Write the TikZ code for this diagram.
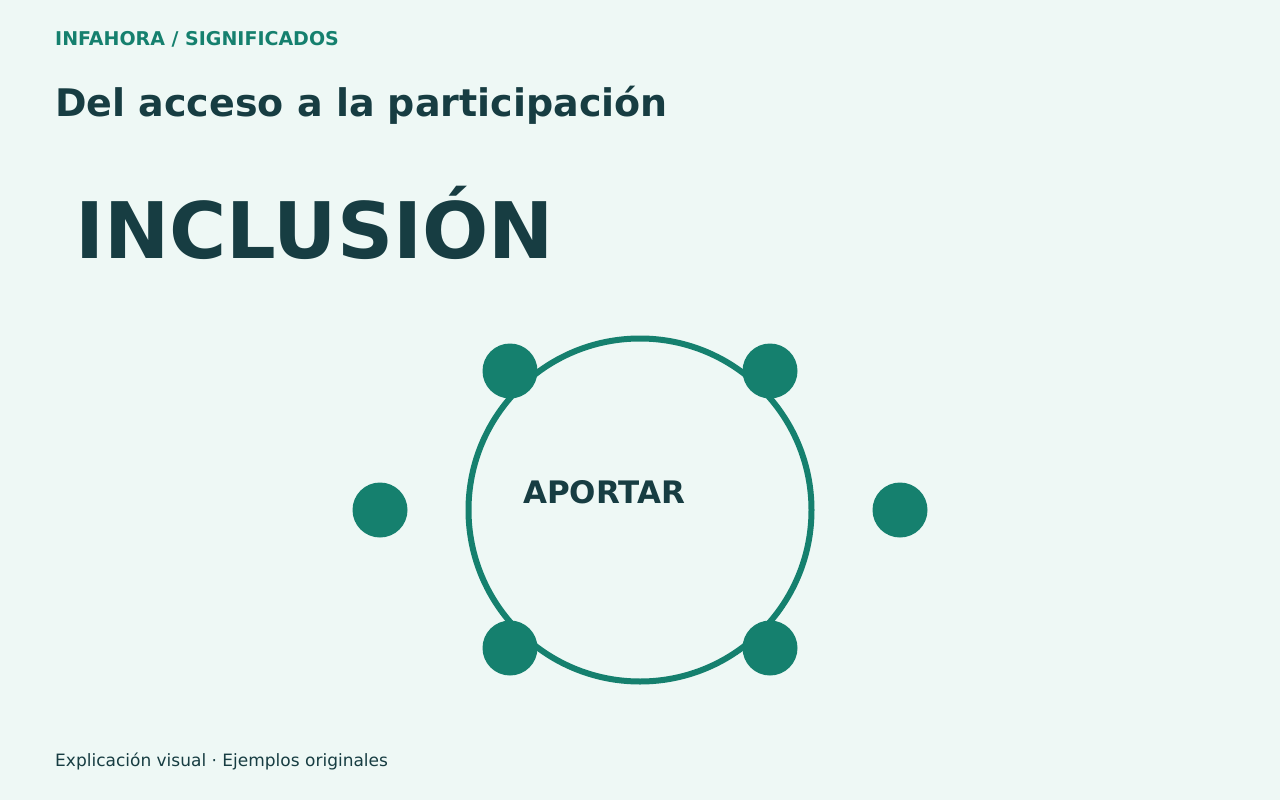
\documentclass[tikz,border=0pt]{standalone}
\usepackage{fontspec}
\setmainfont{DejaVu Sans}
\definecolor{bg}{HTML}{EEF8F5}
\definecolor{teal}{HTML}{15806E}
\definecolor{ink}{HTML}{173D42}
\begin{document}
\begin{tikzpicture}[x=1pt,y=-1pt,
  dot/.style={circle,fill=teal,minimum size=55pt,inner sep=0pt},
  txt/.style={inner sep=0pt,anchor=base west}]
\fill[bg] (0,0) rectangle (1280,800);
\useasboundingbox (0,0) rectangle (1280,800);
\node[txt,text=teal,font=\fontsize{19}{21}\selectfont\bfseries] (brand) at (55,46) {INFAHORA / SIGNIFICADOS};
\node[txt,text=ink,font=\fontsize{38}{42}\selectfont\bfseries] (title) at (55,116) {Del acceso a la participación};
\node[txt,text=ink,font=\fontsize{78}{84}\selectfont\bfseries] (word) at (75,258) {INCLUSIÓN};
\node[circle,draw=teal,line width=6pt,minimum size=343pt,inner sep=0pt] (ring) at (640,510) {};
\node[txt,text=ink,font=\fontsize{31}{34}\selectfont\bfseries] (center) at (523,503) {APORTAR};
\node[dot] (d1) at (510,371) {};
\node[dot] (d2) at (770,371) {};
\node[dot] (d3) at (380,510) {};
\node[dot] (d4) at (900,510) {};
\node[dot] (d5) at (510,648) {};
\node[dot] (d6) at (770,648) {};
\node[txt,text=ink,font=\fontsize{17}{20}\selectfont] (foot) at (55,766) {Explicación visual · Ejemplos originales};
\end{tikzpicture}
\end{document}
